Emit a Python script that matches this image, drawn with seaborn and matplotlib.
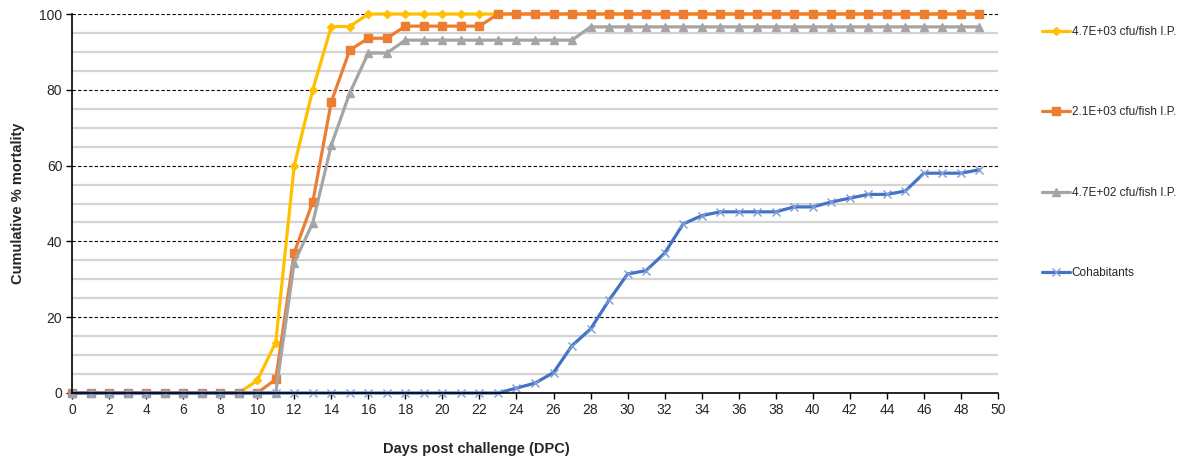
import matplotlib
matplotlib.use("Agg")
import matplotlib.pyplot as plt
import seaborn as sns
import pandas as pd
import numpy as np
from matplotlib.ticker import MultipleLocator

days = list(range(50))
labels = ["4.7E+03 cfu/fish I.P.", "2.1E+03 cfu/fish I.P.", "4.7E+02 cfu/fish I.P.", "Cohabitants"]

high_dose = [0] * 10 + [3.3, 13.3, 60, 80, 96.7, 96.7] + [100] * 34
mid_dose = [0] * 11 + [3.6, 37.0, 50.4, 76.8, 90.5, 93.6, 93.6] + [96.8] * 5 + [100] * 27
low_dose = [0] * 12 + [34.4, 44.9, 65.4, 79.2, 89.7, 89.7] + [93.1] * 10 + [96.6] * 22
cohab = [0] * 24 + [1.3, 2.6, 5.4, 12.5, 16.9, 24.5, 31.4, 32.3, 36.9, 44.6, 46.8,
                    47.8, 47.8, 47.8, 47.8, 49.1, 49.1, 50.4, 51.4, 52.4, 52.4, 53.3,
                    58, 58, 58, 58.9]

series = [high_dose, mid_dose, low_dose, cohab]
frames = [pd.DataFrame({"day": days, "mortality": s, "group": lab}) for s, lab in zip(series, labels)]
df = pd.concat(frames, ignore_index=True)

colors = ["#FFC000", "#ED7D31", "#A5A5A5", "#4472C4"]
marker_list = ["D", "s", "^", "x"]
marker_sizes = [4.5, 5.5, 5.5, 5.5]
edge_colors = ["#FFC000", "#ED7D31", "#A5A5A5", "#7E9DD8"]

sns.set_style("white")
plt.rcParams["font.family"] = ["Liberation Sans", "DejaVu Sans"]

fig, ax = plt.subplots(figsize=(11.84, 4.61), dpi=100)
fig.subplots_adjust(left=72 / 1184, right=998 / 1184, top=1 - 14 / 461, bottom=1 - 393 / 461)

for lab, col, mk, ms, ec in zip(labels, colors, marker_list, marker_sizes, edge_colors):
    sub = df[df["group"] == lab]
    sns.lineplot(data=sub, x="day", y="mortality", color=col, marker=mk,
                 markersize=ms, linewidth=2.3, markeredgecolor=ec,
                 markerfacecolor=col, markeredgewidth=1.0,
                 legend=False, ax=ax, clip_on=False)

ax.set_xlim(0, 50)
ax.set_ylim(0, 100)
ax.xaxis.set_major_locator(MultipleLocator(2))
ax.yaxis.set_major_locator(MultipleLocator(20))
ax.yaxis.set_minor_locator(MultipleLocator(5))

ax.grid(False)
ax.grid(which="minor", axis="y", color="#D4D4D4", linewidth=1.6, linestyle="-", zorder=0)
ax.grid(which="major", axis="y", color="black", linewidth=0.8, linestyle=(0, (3, 2)), zorder=0)
ax.set_axisbelow(True)

for side in ["top", "right"]:
    ax.spines[side].set_visible(False)
for side in ["left", "bottom"]:
    ax.spines[side].set_color("black")
    ax.spines[side].set_linewidth(1.2)

ax.tick_params(axis="both", which="major", direction="out", length=4, width=1,
               color="black", labelsize=10, pad=3, bottom=True, left=True)
ax.tick_params(axis="y", which="minor", length=0)

ax.set_xlabel("Days post challenge (DPC)", fontsize=10.5, fontweight="bold", labelpad=18)
ax.set_ylabel("Cumulative % mortality", fontsize=10.5, fontweight="bold", labelpad=10)
ax.xaxis.set_label_coords((476 - 72) / (998 - 72), -0.13)

handles = list(ax.lines)
leg = fig.legend(handles, labels, loc="upper left", bbox_to_anchor=(1037 / 1184, 1 - 21 / 461),
                 frameon=False, fontsize=8.5, labelspacing=5.8, handlelength=2.4,
                 handletextpad=0.15, borderaxespad=0)

fig.savefig("out.png", dpi=100)
